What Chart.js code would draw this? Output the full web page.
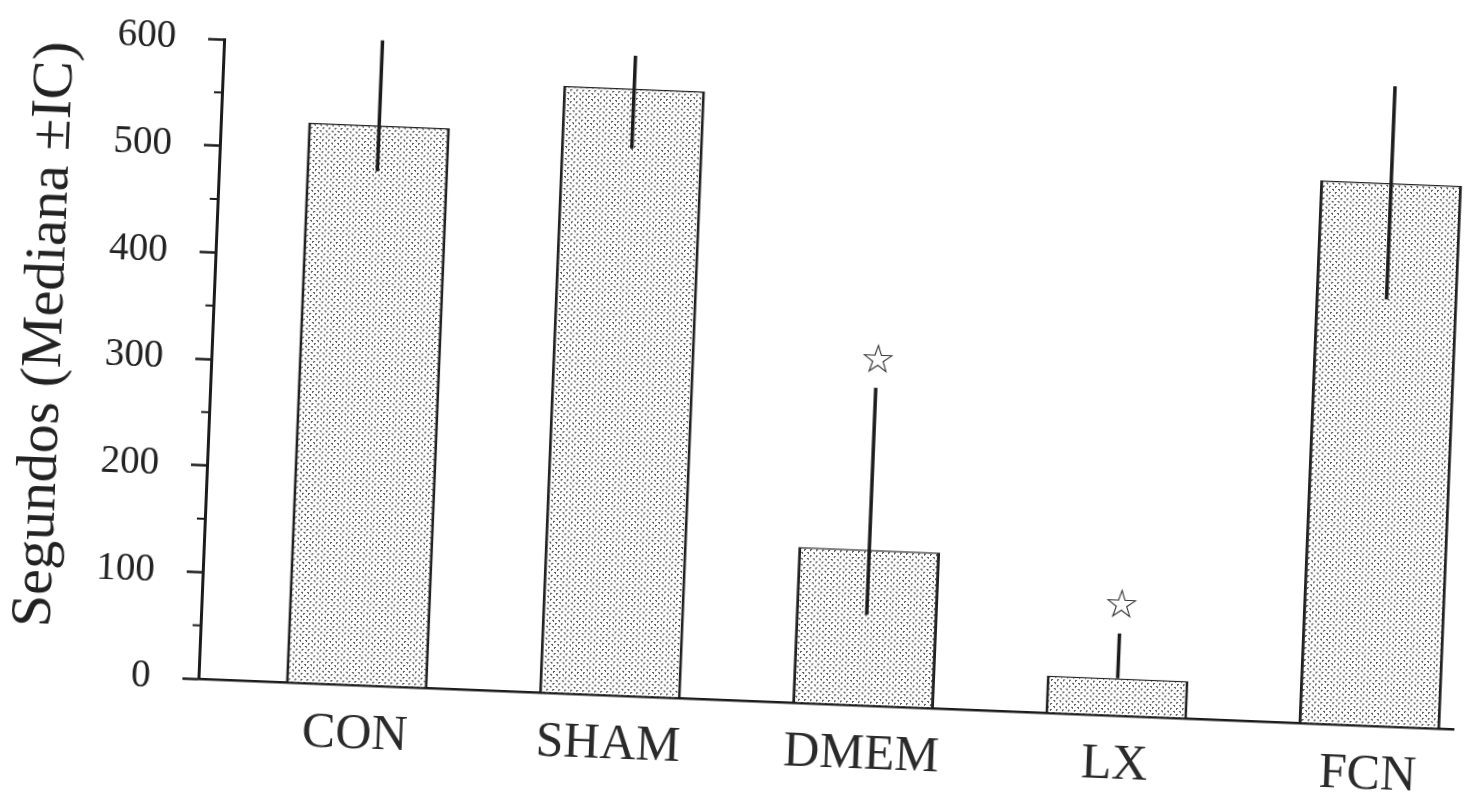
<!DOCTYPE html>
<html>
<head>
<meta charset="utf-8">
<script src="https://cdn.jsdelivr.net/npm/chart.js@4.4.1/dist/chart.umd.min.js"></script>
<style>
  html, body { margin: 0; padding: 0; background: #fff; overflow: hidden; }
  #wrap { width: 1468px; height: 803px; position: relative; }
  /* the figure sits slightly askew on the page */
  #chart { display: block; transform: rotate(2.3deg); transform-origin: 734px 401.5px; }
</style>
</head>
<body>
<div id="wrap"><canvas id="chart" width="1468" height="803"></canvas></div>
<script>
// Groups on the x axis
const categories = ['CON', 'SHAM', 'DMEM', 'LX', 'FCN'];
// Median time per group (seconds)
const medians = [525, 569, 146, 35, 509];
// Confidence interval bounds (seconds)
const ciLow = [482, 513, 85, 35, 400];
const ciHigh = [605, 600, 298, 77, 600];
// Significance markers above the interval
const marks = ['', '', '\u2606', '\u2606', ''];
// Y axis tick values (labelled) and minor ticks
const yTicks = [0, 100, 200, 300, 400, 500, 600];
const yMinorTicks = [50, 150, 250, 350, 450, 550];
const yTitle = 'Segundos (Mediana \u00B1IC)';

const SERIF = '"Liberation Serif", "DejaVu Serif", serif';
const INK = '#1c1c1c';

// Stippled fill for the bars
function stipple() {
  const c = document.createElement('canvas');
  c.width = 6; c.height = 6;
  const g = c.getContext('2d');
  g.fillStyle = '#ffffff';
  g.fillRect(0, 0, 6, 6);
  g.fillStyle = '#5a5a5a';
  g.fillRect(0, 0, 2, 1);
  g.fillRect(0, 1, 1, 1);
  g.fillRect(3, 3, 2, 1);
  g.fillRect(4, 4, 1, 1);
  return g.createPattern(c, 'repeat');
}

const intervalPlugin = {
  id: 'intervals',
  afterDatasetsDraw(chart) {
    const { ctx, scales: { y } } = chart;
    const meta = chart.getDatasetMeta(0);
    ctx.save();
    ctx.strokeStyle = INK;
    ctx.lineWidth = 3.5;
    ctx.lineCap = 'butt';
    meta.data.forEach((bar, i) => {
      const x = bar.x;
      const yHi = y.getPixelForValue(ciHigh[i]);
      const yLo = y.getPixelForValue(ciLow[i]);
      ctx.beginPath();
      ctx.moveTo(x, yLo);
      ctx.lineTo(x, yHi);
      ctx.stroke();
      if (marks[i]) {
        ctx.fillStyle = '#333';
        ctx.font = '40px "DejaVu Sans", sans-serif';
        ctx.textAlign = 'center';
        ctx.textBaseline = 'middle';
        ctx.fillText(marks[i], x + 1, yHi - 26);
      }
    });
    ctx.restore();
  }
};

const axisExtras = {
  id: 'axisExtras',
  afterDraw(chart) {
    const { ctx, scales: { y }, chartArea } = chart;
    ctx.save();
    // minor ticks on the value axis
    ctx.strokeStyle = INK;
    ctx.lineWidth = 2;
    yMinorTicks.forEach(v => {
      const py = y.getPixelForValue(v);
      ctx.beginPath();
      ctx.moveTo(chartArea.left - 8, py);
      ctx.lineTo(chartArea.left, py);
      ctx.stroke();
    });
    // value axis title
    ctx.fillStyle = '#222';
    ctx.font = '58px ' + SERIF;
    ctx.textAlign = 'center';
    ctx.textBaseline = 'middle';
    ctx.translate(44, (chartArea.top + chartArea.bottom) / 2 - 18);
    ctx.rotate(-Math.PI / 2);
    ctx.fillText(yTitle, 0, 0);
    ctx.restore();
  }
};

new Chart(document.getElementById('chart'), {
  type: 'bar',
  data: {
    datasets: [{
      data: medians.map((v, i) => ({ x: i + 1, y: v })),
      backgroundColor: stipple(),
      borderColor: '#222',
      borderWidth: { left: 3, right: 3, top: 1.5, bottom: 0 },
      borderSkipped: 'bottom',
      categoryPercentage: 1,
      barPercentage: 0.56
    }]
  },
  options: {
    responsive: false,
    animation: false,
    devicePixelRatio: 1,
    layout: { padding: { top: 60, right: 2, bottom: 0, left: 0 } },
    plugins: { legend: { display: false }, tooltip: { enabled: false } },
    scales: {
      x: {
        type: 'linear',
        offset: false,
        min: 0.375,
        max: 5.332,
        afterFit(scale) { scale.height = 103; },
        afterBuildTicks(scale) {
          scale.ticks = categories.map((c, i) => ({ value: i + 1 }));
        },
        grid: { display: false, drawTicks: false, offset: false },
        border: { display: true, color: INK, width: 2.5 },
        ticks: {
          autoSkip: false,
          maxRotation: 0,
          padding: 20,
          color: '#2a2a2a',
          font: { family: SERIF, size: 50 },
          callback: v => categories[Math.round(v) - 1] || ''
        }
      },
      y: {
        min: 0,
        max: 600,
        afterFit(scale) { scale.width = 210; },
        afterBuildTicks(scale) {
          scale.ticks = yTicks.map(v => ({ value: v }));
        },
        grid: {
          display: true,
          drawOnChartArea: false,
          drawTicks: true,
          tickLength: 16,
          tickWidth: 2.5,
          tickColor: INK
        },
        border: { display: true, color: INK, width: 3 },
        ticks: {
          padding: 32,
          color: '#222',
          font: { family: SERIF, size: 39 },
          callback: v => String(v)
        }
      }
    }
  },
  plugins: [intervalPlugin, axisExtras]
});
</script>
</body>
</html>
